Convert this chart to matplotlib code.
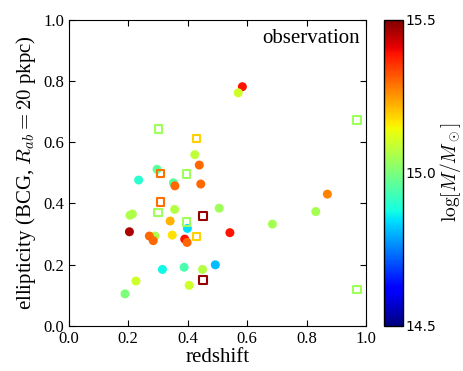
import numpy as np
import matplotlib
matplotlib.use("Agg")
import matplotlib.pyplot as plt

plt.rcParams['font.family'] = 'serif'
plt.rcParams['font.serif'] = ['Liberation Serif', 'DejaVu Serif']
plt.rcParams['mathtext.fontset'] = 'cm'

# clusters with filled circles
z_circ = np.array([0.584, 0.570, 0.424, 0.439, 0.297, 0.235, 0.352, 0.357, 0.444,
                   0.206, 0.214, 0.356, 0.506, 0.341, 0.204, 0.399, 0.542, 0.290,
                   0.271, 0.284, 0.348, 0.390, 0.398, 0.315, 0.388, 0.450, 0.493,
                   0.226, 0.405, 0.189, 0.870, 0.831, 0.685])
e_circ = np.array([0.781, 0.761, 0.559, 0.525, 0.511, 0.476, 0.467, 0.457, 0.463,
                   0.361, 0.365, 0.380, 0.384, 0.342, 0.307, 0.318, 0.304, 0.293,
                   0.293, 0.278, 0.296, 0.283, 0.272, 0.184, 0.191, 0.184, 0.199,
                   0.146, 0.132, 0.104, 0.430, 0.373, 0.332])
m_circ = np.array([15.39, 15.10, 15.08, 15.30, 14.96, 14.90, 14.96, 15.30, 15.30,
                   15.06, 15.06, 15.07, 15.04, 15.22, 15.46, 14.84, 15.39, 15.06,
                   15.30, 15.30, 15.17, 15.39, 15.30, 14.87, 14.94, 15.07, 14.81,
                   15.10, 15.10, 15.00, 15.27, 15.05, 15.05])

# clusters with open squares
z_sq = np.array([0.301, 0.430, 0.309, 0.397, 0.309, 0.300, 0.452, 0.397, 0.430,
                 0.452, 0.970, 0.970])
e_sq = np.array([0.643, 0.611, 0.498, 0.496, 0.404, 0.369, 0.358, 0.339, 0.292,
                 0.149, 0.672, 0.119])
m_sq = np.array([15.04, 15.19, 15.29, 15.04, 15.29, 15.04, 15.48, 15.04, 15.19,
                 15.48, 15.04, 15.04])

fig = plt.figure(figsize=(4.63, 3.71), dpi=100)
ax = fig.add_axes([0.1486, 0.1221, 0.6419, 0.8248])
cax = fig.add_axes([0.829, 0.1221, 0.041, 0.8248])

cmap = plt.get_cmap('jet')
norm = matplotlib.colors.Normalize(vmin=14.5, vmax=15.5)

sc = ax.scatter(z_circ, e_circ, c=m_circ, cmap=cmap, norm=norm, s=42,
                edgecolors='none', zorder=3)
ax.scatter(z_sq, e_sq, s=28, marker='s', facecolors='none',
           edgecolors=cmap(norm(m_sq)), linewidths=1.5, zorder=3)

ax.set_xlim(0, 1)
ax.set_ylim(0, 1)
ax.set_xticks(np.arange(0, 1.01, 0.2))
ax.set_yticks(np.arange(0, 1.01, 0.2))
ax.tick_params(direction='in', top=True, right=True, labelsize=12, length=4)
ax.set_xlabel('redshift', fontsize=15, labelpad=1)
ax.set_ylabel('ellipticity (BCG, $R_{ab}=20$ pkpc)', fontsize=15, labelpad=4)
ax.text(0.98, 0.97, 'observation', transform=ax.transAxes, ha='right', va='top',
        fontsize=15)

cb = fig.colorbar(sc, cax=cax, ticks=[14.5, 15.0, 15.5])
cb.ax.tick_params(direction='in', labelsize=10, length=0, pad=2)
for lab in cb.ax.get_yticklabels():
    lab.set_family('DejaVu Sans')
cb.set_label(r'$\log[M/M_\odot]$', fontsize=14, labelpad=1)
cb.outline.set_linewidth(1.0)

fig.savefig('out.png', dpi=100)
